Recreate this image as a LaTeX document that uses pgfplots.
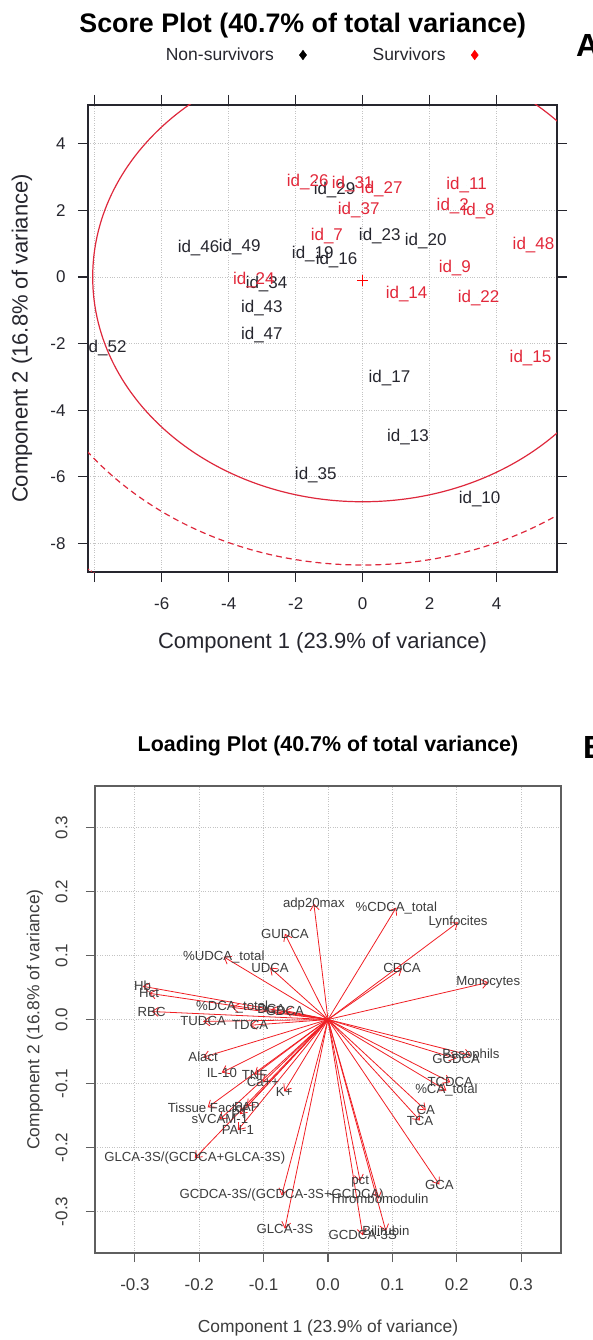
\documentclass[border=0pt]{standalone}
\usepackage{fontspec}
\setmainfont{Liberation Sans}
\usepackage{pgfplots}
\pgfplotsset{compat=1.18}
\usepackage{pgfplotstable}
\usetikzlibrary{arrows.meta}

\definecolor{lblack}{RGB}{38,38,46}
\definecolor{lred}{RGB}{226,40,58}
\definecolor{ellred}{RGB}{222,40,60}
\definecolor{arrred}{RGB}{240,30,35}
\definecolor{gridgray}{RGB}{195,195,195}
\definecolor{boxgray}{RGB}{95,95,95}
\definecolor{txtgray}{RGB}{60,60,60}

\pgfplotstableread{
x y label
-4.90 0.87 id\_46
-3.67 0.90 id\_49
-2.87 -0.21 id\_34
-3.01 -0.93 id\_43
-3.01 -1.74 id\_47
-7.67 -2.13 id\_52
-1.49 0.69 id\_19
-0.78 0.51 id\_16
-0.84 2.61 id\_29
0.51 1.23 id\_23
1.88 1.08 id\_20
0.80 -3.03 id\_17
1.35 -4.80 id\_13
-1.40 -5.95 id\_35
3.49 -6.67 id\_10
}\nonsurv

\pgfplotstableread{
x y label
-1.64 2.85 id\_26
-0.30 2.79 id\_31
0.57 2.64 id\_27
-0.12 2.00 id\_37
-1.07 1.23 id\_7
3.10 2.76 id\_11
2.69 2.13 id\_2
3.46 1.98 id\_8
5.10 0.96 id\_48
2.75 0.27 id\_9
1.31 -0.51 id\_14
3.46 -0.63 id\_22
5.01 -2.43 id\_15
-3.25 -0.09 id\_24
}\surv

\pgfplotstableread[col sep=comma]{
u,v,label
-0.022,0.181,adp20max
-0.067,0.134,GUDCA
-0.162,0.098,\%UDCA\_total
-0.090,0.081,UDCA
-0.288,0.052,Hb
-0.278,0.041,Hct
-0.274,0.0125,RBC
-0.149,0.019,\%DCA\_total
-0.088,0.016,DCA
-0.067,0.014,GDCA
-0.194,-0.003,TUDCA
-0.121,-0.009,TDCA
-0.194,-0.059,Alact
-0.165,-0.083,IL-10
-0.114,-0.086,TNF
-0.101,-0.098,Ca++
-0.068,-0.1125,K+
-0.187,-0.1375,Tissue Factor
-0.126,-0.136,PAP
-0.168,-0.156,sVCAM-1
-0.137,-0.148,PT
-0.140,-0.173,PAI-1
-0.207,-0.217,GLCA-3S/(GCDCA+GLCA-3S)
-0.072,-0.275,GCDCA-3S/(GCDCA-3S+GCDCA)
-0.067,-0.327,GLCA-3S
0.050,-0.253,pct
0.079,-0.280,Thrombomodulin
0.054,-0.3375,GCDCA-3S
0.090,-0.331,Bilirubin
0.173,-0.258,GCA
0.143,-0.158,TCA
0.152,-0.142,CA
0.184,-0.111,\%CA\_total
0.190,-0.098,TCDCA
0.199,-0.061,GCDCA
0.222,-0.056,Basophils
0.249,0.058,Monocytes
0.115,0.080,CDCA
0.202,0.152,Lynfocites
0.106,0.175,\%CDCA\_total
}\loadtab

\begin{document}
\begin{tikzpicture}
\useasboundingbox (0,0) rectangle (592pt,-1340pt);

% ---------------- Score plot ----------------
\begin{axis}[
  at={(88pt,-572pt)}, anchor=south west,
  scale only axis, width=469pt, height=467pt,
  xmin=-8.2, xmax=5.8, ymin=-8.86, ymax=5.165,
  axis line style={lblack, line width=1.3pt},
  tick align=outside, major tick length=10pt,
  tick style={lblack, line width=1.2pt},
  xtick={-8,-6,-4,-2,0,2,4}, xticklabels={,-6,-4,-2,0,2,4},
  ytick={-8,-6,-4,-2,0,2,4}, yticklabels={-8,-6,-4,-2,0,2,4},
  xtick pos=both, ytick pos=both,
  xticklabel pos=lower, yticklabel pos=left,
  tick label style={font=\fontsize{17}{20}\selectfont, text=lblack},
  xticklabel style={yshift=-12pt},
  yticklabel style={xshift=-9pt},
  grid=major, major grid style={gridgray, dotted, line width=0.9pt},
  clip marker paths=true,
  title={Score Plot (40.7\% of total variance)},
  title style={at={(axis description cs:0.458,1.1756)}, anchor=center, yshift=-9pt,
    font=\bfseries\fontsize{26.8}{30}\selectfont, text=black},
  xlabel={Component 1 (23.9\% of variance)},
  ylabel={Component 2 (16.8\% of variance)},
  xlabel style={at={(axis description cs:0.5,-0.152)}, anchor=center,
    font=\fontsize{22}{26}\selectfont, text=lblack},
  ylabel style={at={(axis description cs:-0.1407,0.5)}, anchor=center,
    font=\fontsize{22}{26}\selectfont, text=lblack},
  legend columns=2, legend plot pos=right,
  legend image code/.code={\path (0pt,0pt); \draw[#1] plot coordinates {(27pt,0pt)};},
  legend style={at={(axis description cs:0.497,1.107)}, anchor=center,
    draw=none, fill=none, font=\fontsize{17.5}{20}\selectfont, text=lblack,
    /tikz/every even column/.append style={column sep=64pt}},
]
\addlegendimage{only marks, mark=diamond*, mark size=4.8pt, black}
\addlegendentry{Non-survivors}
\addlegendimage{only marks, mark=diamond*, mark size=4.8pt, red}
\addlegendentry{Survivors}

\draw[ellred, line width=1.2pt] (axis cs:0,0) ellipse [x radius=8.06, y radius=6.75];
\draw[ellred, line width=1.2pt, dash pattern=on 6pt off 4pt] (axis cs:0,0) ellipse [x radius=10.33, y radius=8.65];
\draw[ellred, line width=1.2pt, dotted] (axis cs:0,0) ellipse [x radius=13.3, y radius=11.14];

\addplot[forget plot, only marks, mark=*, mark size=0pt, mark options={draw=none, fill=none},
  nodes near coords, point meta=explicit symbolic, nodes near coords align={center},
  every node near coord/.append style={font=\fontsize{17}{20}\selectfont, text=lblack, inner sep=0pt}]
  table[x=x, y=y, meta=label] {\nonsurv};
\addplot[forget plot, only marks, mark=*, mark size=0pt, mark options={draw=none, fill=none},
  nodes near coords, point meta=explicit symbolic, nodes near coords align={center},
  every node near coord/.append style={font=\fontsize{17}{20}\selectfont, text=lred, inner sep=0pt}]
  table[x=x, y=y, meta=label] {\surv};
\addplot[forget plot, only marks, mark=+, mark size=5.5pt, red, line width=1.3pt]
  coordinates {(0,-0.1)};

\node[font=\bfseries\fontsize{13.2}{15}\selectfont, text=lred] at (axis description cs:0.4606,-0.2034)
  {Ellipses: critical T\^{}2 value at p=0.05, 0.01 and 0.001};
\end{axis}

\node[anchor=west, font=\bfseries\fontsize{32}{34}\selectfont, inner sep=0pt] at (576pt,-45pt) {A};
\node[anchor=west, font=\bfseries\fontsize{32}{34}\selectfont, inner sep=0pt] at (583pt,-747pt) {B};

% ---------------- Loading plot ----------------
\begin{axis}[
  at={(95pt,-1253pt)}, anchor=south west,
  scale only axis, width=466pt, height=467pt,
  xmin=-0.362, xmax=0.362, ymin=-0.365, ymax=0.365,
  axis line style={boxgray, line width=1.1pt},
  tick align=outside, major tick length=9pt,
  tick style={boxgray, line width=1.1pt},
  xtick={-0.3,-0.2,-0.1,0,0.1,0.2,0.3},
  xticklabels={-0.3,-0.2,-0.1,0.0,0.1,0.2,0.3},
  ytick={-0.3,-0.2,-0.1,0,0.1,0.2,0.3},
  yticklabels={-0.3,-0.2,-0.1,0.0,0.1,0.2,0.3},
  xtick pos=lower, ytick pos=left,
  tick label style={font=\fontsize{17}{20}\selectfont, text=txtgray},
  xticklabel style={yshift=-13pt},
  yticklabel style={xshift=-15pt, rotate=90, anchor=south},
  grid=major, major grid style={gridgray, dotted, line width=0.9pt},
  title={Loading Plot (40.7\% of total variance)},
  title style={at={(axis description cs:0.5,1.0878)}, anchor=center, yshift=-7pt,
    font=\bfseries\fontsize{21.4}{25}\selectfont, text=black},
  xlabel={Component 1 (23.9\% of variance)},
  ylabel={Component 2 (16.8\% of variance)},
  xlabel style={at={(axis description cs:0.5,-0.1606)}, anchor=center,
    font=\fontsize{17.4}{20}\selectfont, text=txtgray},
  ylabel style={at={(axis description cs:-0.1288,0.5)}, anchor=center,
    font=\fontsize{17.4}{20}\selectfont, text=txtgray},
]
\addplot[arrred, line width=0.8pt, -{Straight Barb[length=6pt, width=9pt]},
  quiver={u=\thisrow{u}, v=\thisrow{v}}]
  table[x expr=0, y expr=0] {\loadtab};
\addplot[only marks, mark=*, mark size=0pt, mark options={draw=none, fill=none},
  nodes near coords, point meta=explicit symbolic, nodes near coords align={center},
  every node near coord/.append style={font=\fontsize{13.2}{15}\selectfont, text=txtgray, inner sep=0pt}]
  table[x=u, y=v, meta=label] {\loadtab};
\end{axis}
\end{tikzpicture}
\end{document}
